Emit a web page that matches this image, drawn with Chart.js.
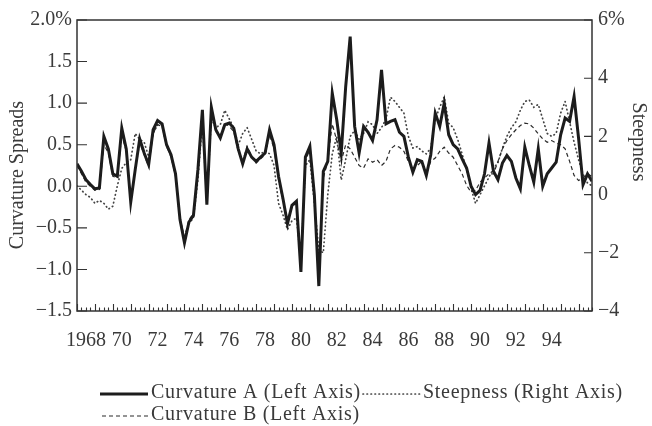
<!DOCTYPE html>
<html>
<head>
<meta charset="utf-8">
<script src="https://cdn.jsdelivr.net/npm/chart.js@4/dist/chart.umd.min.js"></script>
<style>
html,body{margin:0;padding:0;background:#fff}
#wrap{width:652px;height:426px}
</style>
</head>
<body>
<div id="wrap"><canvas id="c" width="652" height="426"></canvas></div>
<script>
// quarterly observations, 1968 Q1 .. 1996 Q4
const START_YEAR = 1968, STEP = 0.25

const CURV_A = [0.27,0.18,0.08,0.02,-0.03,-0.02,0.60,0.45,0.15,0.12,0.70,0.45,-0.19,0.20,0.57,0.40,
0.26,0.68,0.79,0.75,0.50,0.38,0.15,-0.40,-0.68,-0.43,-0.35,0.20,0.92,-0.22,0.95,0.68,
0.58,0.74,0.76,0.70,0.45,0.27,0.45,0.35,0.30,0.35,0.40,0.68,0.50,0.12,-0.15,-0.45,
-0.23,-0.18,-1.03,0.35,0.48,-0.10,-1.20,0.18,0.30,1.12,0.80,0.40,1.20,1.80,0.72,0.40,
0.72,0.65,0.55,0.80,1.40,0.75,0.78,0.80,0.65,0.60,0.35,0.17,0.32,0.30,0.13,0.38,
0.88,0.72,1.00,0.62,0.50,0.45,0.33,0.22,0.00,-0.10,-0.05,0.15,0.52,0.18,0.08,0.28,
0.37,0.30,0.10,-0.03,0.47,0.25,0.05,0.45,0.00,0.15,0.22,0.29,0.62,0.82,0.78,1.08,
0.58,0.02,0.15,0.06]

const CURV_B = [0.25,0.15,0.05,0.00,-0.05,-0.04,0.50,0.40,0.12,0.10,0.62,0.42,-0.15,0.18,0.52,0.38,
0.24,0.64,0.74,0.72,0.48,0.36,0.12,-0.38,-0.62,-0.40,-0.33,0.15,0.85,-0.20,0.88,0.66,
0.60,0.76,0.72,0.66,0.42,0.30,0.48,0.36,0.28,0.33,0.38,0.62,0.45,0.08,-0.18,-0.42,
-0.25,-0.20,-0.95,0.30,0.45,-0.12,-1.10,0.10,0.30,0.75,0.55,0.30,0.50,0.45,0.35,0.25,
0.22,0.33,0.29,0.32,0.25,0.30,0.45,0.49,0.47,0.42,0.30,0.20,0.25,0.30,0.15,0.30,
0.34,0.42,0.47,0.40,0.35,0.25,0.15,0.01,-0.07,-0.05,0.05,0.10,0.15,0.15,0.30,0.45,
0.55,0.62,0.68,0.73,0.76,0.75,0.70,0.63,0.57,0.53,0.55,0.52,0.50,0.45,0.30,0.13,
0.07,0.10,0.15,0.12]

const STEEP = [0.30,0.15,0.00,-0.10,-0.30,-0.20,-0.30,-0.50,-0.40,0.30,0.90,1.10,1.20,2.10,1.90,1.80,
1.30,2.10,2.40,2.40,1.70,1.30,0.70,-0.90,-1.50,-1.00,-0.80,0.50,2.50,-0.20,2.60,2.30,
2.40,2.90,2.60,2.30,1.70,2.10,2.30,1.90,1.50,1.40,1.50,1.40,1.00,-0.30,-0.70,-1.20,
-0.90,-0.80,-2.30,1.00,1.20,-0.30,-1.90,-2.00,0.00,1.40,2.00,0.50,1.20,2.00,2.20,1.90,
2.10,2.50,2.40,2.10,2.30,2.60,3.35,3.20,3.00,2.80,2.00,1.60,1.65,1.50,1.40,1.60,
2.60,3.00,3.36,2.45,2.30,1.90,1.40,0.85,0.20,-0.30,0.00,0.30,0.60,0.90,1.10,1.60,
2.00,2.30,2.50,2.90,3.20,3.25,3.00,3.10,2.60,2.10,2.00,2.10,2.80,3.20,2.50,1.80,
1.20,0.70,0.40,0.30]

const DATES = CURV_A.map((_, i) => START_YEAR + i * STEP)

const YEAR_TICKS = [1968.5,1970.5,1972.5,1974.5,1976.5,1978.5,1980.5,1982.5,1984.5,1986.5,1988.5,1990.5,1992.5,1994.5]
const YEAR_LABELS = ['1968','70','72','74','76','78','80','82','84','86','88','90','92','94']
const LEFT_TICKS = [-1.5,-1.0,-0.5,0.0,0.5,1.0,1.5,2.0]
const RIGHT_TICKS = [-4,-2,0,2,4,6]

const FONT = '"Liberation Serif", "Times New Roman", serif'
const INK = '#3a3a3a'

function pts(vals){ return vals.map((v, i) => ({x: DATES[i], y: v})) }
function minus(s){ return s.replace('-', '\u2212') }

const framePlugin = {
  id: 'frame',
  afterDatasetsDraw(chart){
    const {ctx, chartArea: a, scales: {x, y, y2}} = chart
    ctx.save()
    ctx.strokeStyle = '#333'
    ctx.lineWidth = 1.5
    ctx.strokeRect(a.left, a.top, a.right - a.left, a.bottom - a.top)
    ctx.lineWidth = 1.1
    ctx.beginPath()
    for (let q = 0; START_YEAR + q * STEP <= x.max + 1e-9; q++){
      const px = Math.round(x.getPixelForValue(START_YEAR + q * STEP)) + 0.5
      const len = q % 4 === 0 ? 7 : 3.5
      ctx.moveTo(px, a.bottom); ctx.lineTo(px, a.bottom - len)
    }
    LEFT_TICKS.forEach(v => { const py = y.getPixelForValue(v); ctx.moveTo(a.left, py); ctx.lineTo(a.left + 10, py) })
    RIGHT_TICKS.forEach(v => { const py = y2.getPixelForValue(v); ctx.moveTo(a.right, py); ctx.lineTo(a.right - 8, py) })
    ctx.stroke()
    ctx.restore()
  },
  afterDraw(chart){
    const {ctx} = chart
    const ds = chart.data.datasets
    ctx.save()
    ctx.fillStyle = INK
    ctx.font = '20px ' + FONT
    ctx.textBaseline = 'middle'
    // axis titles
    ctx.save(); ctx.translate(18, 175); ctx.rotate(-Math.PI / 2); ctx.textAlign = 'center'
    ctx.fillText('Curvature Spreads', 0, 0); ctx.restore()
    ctx.save(); ctx.translate(638, 142); ctx.rotate(Math.PI / 2); ctx.textAlign = 'center'
    ctx.fillText('Steepness', 0, 0); ctx.restore()
    // legend
    ctx.letterSpacing = '0.7px'
    const rows = [[ds[0], 100, 148, 394], [ds[2], 363, 420, 394], [ds[1], 102, 148, 416]]
    rows.forEach(([d, x0, x1, yy]) => {
      ctx.save()
      ctx.strokeStyle = d.borderColor
      ctx.lineWidth = d.borderWidth
      ctx.lineCap = d.borderCapStyle || 'butt'
      ctx.setLineDash(d.borderDash || [])
      ctx.beginPath(); ctx.moveTo(x0, yy); ctx.lineTo(x1, yy); ctx.stroke()
      ctx.restore()
      ctx.textAlign = 'left'
      ctx.fillText(d.label, x1 + 3, yy - 1)
    })
    ctx.restore()
  }
}

new Chart(document.getElementById('c'), {
  type: 'line',
  data: {
    datasets: [
      {label: 'Curvature A (Left Axis)', data: pts(CURV_A), yAxisID: 'y', borderColor: '#1c1c1c', borderWidth: 3, tension: 0},
      {label: 'Curvature B (Left Axis)', data: pts(CURV_B), yAxisID: 'y', borderColor: '#2a2a2a', borderWidth: 1.2, borderDash: [4, 3], tension: 0},
      {label: 'Steepness (Right Axis)', data: pts(STEEP), yAxisID: 'y2', borderColor: '#444', borderWidth: 1.7, borderDash: [0.5, 3.5], borderCapStyle: 'round', tension: 0}
    ]
  },
  options: {
    responsive: false,
    animation: false,
    devicePixelRatio: 1,
    elements: {point: {radius: 0}},
    layout: {padding: {top: 20, left: 0, right: 0, bottom: 0}},
    plugins: {legend: {display: false}, tooltip: {enabled: false}},
    scales: {
      x: {
        type: 'linear', min: START_YEAR, max: 1996.75,
        grid: {display: false, drawTicks: false}, border: {display: false},
        afterBuildTicks: s => { s.ticks = YEAR_TICKS.map(v => ({value: v})) },
        afterFit: s => { s.height = 115 },
        ticks: {autoSkip: false, maxRotation: 0, padding: 18, color: INK, font: {family: FONT, size: 20},
          callback: (v, i) => YEAR_LABELS[i]}
      },
      y: {
        position: 'left', min: -1.5, max: 2,
        grid: {display: false, drawTicks: false}, border: {display: false},
        afterBuildTicks: s => { s.ticks = LEFT_TICKS.map(v => ({value: v})) },
        afterFit: s => { s.width = 77 },
        ticks: {padding: 5, color: INK, font: {family: FONT, size: 20},
          callback: v => v === 2 ? '2.0%' : minus(v.toFixed(1))}
      },
      y2: {
        position: 'right', min: -4, max: 6,
        grid: {display: false, drawTicks: false}, border: {display: false},
        afterBuildTicks: s => { s.ticks = RIGHT_TICKS.map(v => ({value: v})) },
        afterFit: s => { s.width = 60 },
        ticks: {padding: 6, color: INK, font: {family: FONT, size: 20},
          callback: v => v === 6 ? '6%' : minus(String(v))}
      }
    }
  },
  plugins: [framePlugin]
})
</script>
</body>
</html>
